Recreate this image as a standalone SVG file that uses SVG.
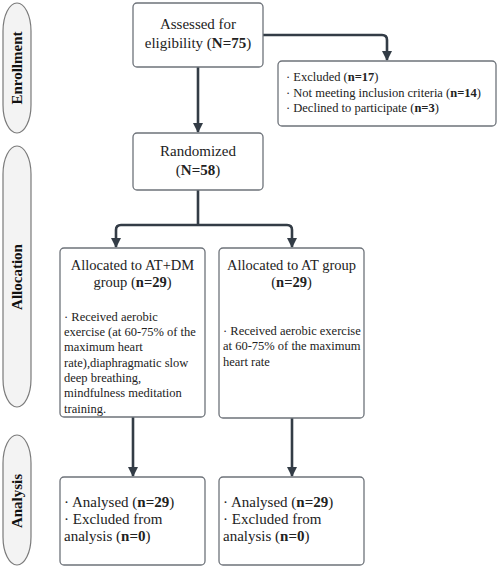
<svg xmlns="http://www.w3.org/2000/svg" width="498" height="568" viewBox="0 0 498 568">
<defs>
<marker id="ah" viewBox="0 0 10 10" refX="9" refY="5" markerWidth="4" markerHeight="4" orient="auto" markerUnits="strokeWidth">
<path d="M0,0 L10,5 L0,10 z" fill="#333c46"/>
</marker>
<style>
.box{fill:#fff;stroke:#6e737a;stroke-width:1.3}
.pill{fill:#f3f3f3;stroke:#7a7a7a;stroke-width:1.2}
.t{font-family:"Liberation Serif",serif;font-size:15px;fill:#222}
.h{font-family:"Liberation Serif",serif;font-size:14.5px;fill:#222}
.s{font-family:"Liberation Serif",serif;font-size:12.5px;fill:#222}
.x{font-family:"Liberation Serif",serif;font-size:12.5px;fill:#222}
.lab{font-family:"Liberation Serif",serif;font-size:15px;font-weight:bold;fill:#111}
.c{fill:none;stroke:#333c46;stroke-width:2.6;marker-end:url(#ah)}
</style>
</defs>
<rect width="498" height="568" fill="#fff"/>
<g id="phase-enrollment">
<rect class="pill" x="3" y="3" width="28" height="130" rx="14" ry="28"/>
<text class="lab" transform="translate(22,68) rotate(-90)" text-anchor="middle">Enrollment</text>
</g>
<g id="phase-allocation">
<rect class="pill" x="3" y="146" width="28" height="261" rx="14" ry="28"/>
<text class="lab" transform="translate(22,277) rotate(-90)" text-anchor="middle">Allocation</text>
</g>
<g id="phase-analysis">
<rect class="pill" x="3" y="435" width="28" height="130" rx="14" ry="28"/>
<text class="lab" transform="translate(22,501) rotate(-90)" text-anchor="middle">Analysis</text>
</g>
<g id="connectors">
<path class="c" d="M263,35 H382 Q387,35 387,40 V60"/>
<path class="c" d="M198,67 V132"/>
<path class="c" d="M198,190 V225 M198,225 H121 Q116,225 116,230 V247"/>
<path class="c" d="M198,225 H287 Q292,225 292,230 V247"/>
<path class="c" d="M133,417 V476"/>
<path class="c" d="M292,418 V476"/>
</g>
<g id="assessed">
<rect class="box" x="133" y="3" width="130" height="64" rx="4"/>
<text class="t" x="198" y="29" text-anchor="middle">Assessed for</text>
<text class="t" x="198" y="48" text-anchor="middle">eligibility (<tspan font-weight="bold">N=75</tspan>)</text>
</g>
<g id="excluded">
<rect class="box" x="278" y="61" width="218" height="65" rx="4"/>
<text class="x" x="286" y="81">· Excluded (<tspan font-weight="bold">n=17</tspan>)</text>
<text class="x" x="286" y="97">· Not meeting inclusion criteria (<tspan font-weight="bold">n=14</tspan>)</text>
<text class="x" x="286" y="112">· Declined to participate (<tspan font-weight="bold">n=3</tspan>)</text>
</g>
<g id="randomized">
<rect class="box" x="133" y="133" width="130" height="57" rx="4"/>
<text class="t" x="198" y="156" text-anchor="middle">Randomized</text>
<text class="t" x="198" y="175" text-anchor="middle">(<tspan font-weight="bold">N=58</tspan>)</text>
</g>
<g id="alloc-atdm">
<rect class="box" x="60" y="248" width="145" height="169" rx="4"/>
<text class="h" x="132.5" y="270" text-anchor="middle">Allocated to AT+DM</text>
<text class="h" x="132.5" y="287" text-anchor="middle">group (<tspan font-weight="bold">n=29</tspan>)</text>
<text class="s" x="64" y="321">· Received aerobic</text>
<text class="s" x="64" y="336">exercise (at 60-75% of the</text>
<text class="s" x="64" y="351">maximum heart</text>
<text class="s" x="64" y="367">rate),diaphragmatic slow</text>
<text class="s" x="64" y="382">deep breathing,</text>
<text class="s" x="64" y="397">mindfulness meditation</text>
<text class="s" x="64" y="413">training.</text>
</g>
<g id="alloc-at">
<rect class="box" x="219" y="248" width="145" height="170" rx="4"/>
<text class="h" x="291.5" y="270" text-anchor="middle">Allocated to AT group</text>
<text class="h" x="291.5" y="287" text-anchor="middle">(<tspan font-weight="bold">n=29</tspan>)</text>
<text class="s" x="223" y="335">· Received aerobic exercise</text>
<text class="s" x="223" y="350">at 60-75% of the maximum</text>
<text class="s" x="223" y="366">heart rate</text>
</g>
<g id="analysis-atdm">
<rect class="box" x="60" y="477" width="145" height="88" rx="4"/>
<text class="t" x="64" y="507">· Analysed (<tspan font-weight="bold">n=29</tspan>)</text>
<text class="t" x="64" y="524">· Excluded from</text>
<text class="t" x="64" y="541">analysis (<tspan font-weight="bold">n=0</tspan>)</text>
</g>
<g id="analysis-at">
<rect class="box" x="219" y="477" width="145" height="88" rx="4"/>
<text class="t" x="223" y="507">· Analysed (<tspan font-weight="bold">n=29</tspan>)</text>
<text class="t" x="223" y="524">· Excluded from</text>
<text class="t" x="223" y="541">analysis (<tspan font-weight="bold">n=0</tspan>)</text>
</g>
</svg>
